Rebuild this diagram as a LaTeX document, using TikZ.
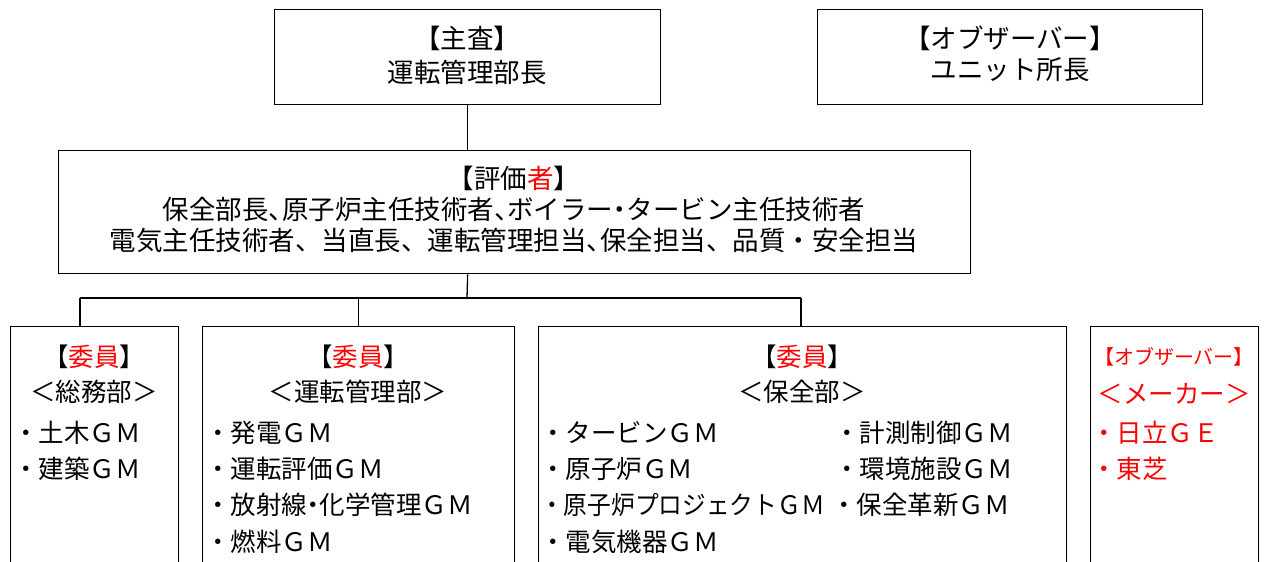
\documentclass[tikz,border=0pt]{standalone}
\usepackage{fontspec}
\setmainfont{Noto Sans CJK JP}
\newcommand{\hwc}{\makebox[0.5em][l]{、}}
\newcommand{\hwd}{\makebox[0.5em][c]{・}}
\begin{document}
\begin{tikzpicture}[x=1pt,y=-1pt,
  box/.style={draw, line width=1.3pt, inner sep=0pt, anchor=north west},
  conn/.style={line width=1.3pt},
  big/.style={inner sep=0pt, font=\fontsize{26.5}{30}\selectfont},
  mid/.style={inner sep=0pt, font=\fontsize{25.5}{28}\selectfont},
  item/.style={inner sep=0pt, anchor=west, font=\fontsize{25.5}{28}\selectfont},
  small/.style={inner sep=0pt, font=\fontsize{20}{22}\selectfont}]
\useasboundingbox (0,0) rectangle (1264,562);
\clip (0,0) rectangle (1264,562);
% boxes
\node[box, minimum width=386pt, minimum height=95pt] (top) at (274,9) {};
\node[box, minimum width=385pt, minimum height=95pt] (obs) at (817,9) {};
\node[box, minimum width=912pt, minimum height=123pt] (eval) at (58,150) {};
\node[box, minimum width=168pt, minimum height=280pt] (b1) at (10,326) {};
\node[box, minimum width=312pt, minimum height=280pt] (b2) at (202,326) {};
\node[box, minimum width=528pt, minimum height=280pt] (b3) at (538,326) {};
\node[box, minimum width=168pt, minimum height=280pt] (b4) at (1090,326) {};
% connectors
\coordinate (bus) at (467,298);
\coordinate (j1) at (80,298);
\coordinate (j3) at (801,298);
\draw[conn] (top.south) -- (top.south |- eval.north);
\draw[conn] (top.south |- eval.south) -- (bus);
\draw[conn] (j1) -- (j3);
\draw[conn] (j1) -- (j1 |- b1.north);
\draw[conn] (b2.north |- bus) -- (b2.north);
\draw[conn] (j3) -- (j3 |- b3.north);
% top texts
\node[big] (topt1) at (467,38) {【主査】};
\node[big] (topt2) at (467,72) {運転管理部長};
\node[big] (obst1) at (1010,38) {【オブザーバー】};
\node[big] (obst2) at (1010,70) {ユニット所長};
% evaluator
\node[big] (ev1) at (514,178) {【評価\textcolor{red}{者}】};
\node[big] (ev2) at (514,209) {保全部長\hwc 原子炉主任技術者\hwc ボイラー\hwd タービン主任技術者};
\node[big] (ev3) at (514,240) {電気主任技術者、当直長、運転管理担当\hwc 保全担当、品質・安全担当};
% box1
\node[mid] (b1t) at (94,357) {【\textcolor{red}{委員}】};
\node[mid] (b1s) at (94,392) {＜総務部＞};
\node[item] (b1i1) at (13,433) {・土木ＧＭ};
\node[item] (b1i2) at (13,469) {・建築ＧＭ};
% box2
\node[mid] (b2t) at (358,357) {【\textcolor{red}{委員}】};
\node[mid] (b2s) at (358,392) {＜運転管理部＞};
\node[item] (b2i1) at (205,433) {・発電ＧＭ};
\node[item] (b2i2) at (205,469) {・運転評価ＧＭ};
\node[item] (b2i3) at (205,505) {・放射線\hwd 化学管理ＧＭ};
\node[item] (b2i4) at (205,542) {・燃料ＧＭ};
% box3
\node[mid] (b3t) at (802,357) {【\textcolor{red}{委員}】};
\node[mid] (b3s) at (802,392) {＜保全部＞};
\node[item] (b3i1) at (540,433) {・タービンＧＭ};
\node[item] (b3i2) at (540,469) {・原子炉ＧＭ};
\node[item] (b3i3) at (540,505) {\scalebox{0.93}[1]{・原子炉プロジェクトＧＭ}};
\node[item] (b3i4) at (540,542) {・電気機器ＧＭ};
\node[item] (b3j1) at (834,433) {・計測制御ＧＭ};
\node[item] (b3j2) at (834,469) {・環境施設ＧＭ};
\node[item] (b3j3) at (831,505) {・保全革新ＧＭ};
% box4
\node[small, text=red] (b4t) at (1174,357) {【オブザーバー】};
\node[mid, text=red] (b4s) at (1174,394) {＜メーカー＞};
\node[item, text=red] (b4i1) at (1091,433) {・日立ＧＥ};
\node[item, text=red] (b4i2) at (1091,469) {・東芝};
\end{tikzpicture}
\end{document}
